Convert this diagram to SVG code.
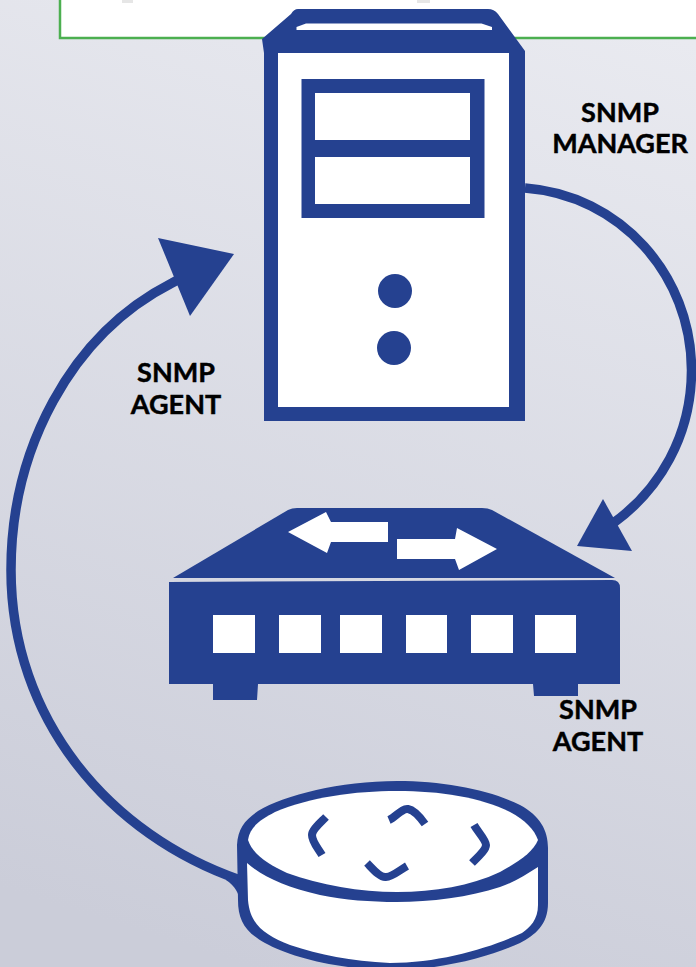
<svg xmlns="http://www.w3.org/2000/svg" width="696" height="967" viewBox="0 0 696 967">
<style>
.b{fill:#254190}
.w{fill:#fff}
.l{font-family:Lato,"Liberation Sans",sans-serif;font-weight:700;font-size:27px;fill:#000;stroke:#000;stroke-width:.45;text-anchor:middle}
.c{fill:none;stroke:#254190;stroke-width:9.500}
.m{fill:none;stroke:#254190;stroke-width:8;stroke-linejoin:round}
</style>
<defs>
<linearGradient id="bg" gradientUnits="userSpaceOnUse" x1="560" y1="0" x2="250" y2="967">
<stop offset="0" stop-color="#e9eaf0"/>
<stop offset="1" stop-color="#cbcdd9"/>
</linearGradient>
</defs>
<rect width="696" height="967" fill="url(#bg)"/>
<g id="banner">
<rect x="60" y="-5" width="640" height="43" fill="#fff" stroke="#4caf50" stroke-width="2.500"/>
<rect x="122" y="0" width="11" height="3" fill="#e6e6e6"/>
<rect x="417" y="0" width="13" height="3" fill="#e6e6e6"/>
</g>
<g id="connectors">
<path class="c" d="M525 188C620 195 691.500 275 691.500 370C691.500 435 660 490 612 524"/>
<polygon class="b" points="603,499 632,551 577,546"/>
<path class="c" d="M240 880C110 835 11 720 11 570C11 450 70 335 172 283L185 276"/>
<path class="b" d="M226 874L240 879V902C239 893 235 886 226 880Z"/>
<polygon class="b" points="158,238 234,254 190,316"/>
</g>
<g id="snmp-manager">
<path class="b" d="M298 9H488Q494 9 498 14L525 51V421H264V53L262 39L291 14Q294 9 298 9Z"/>
<rect class="w" x="278" y="53" width="231" height="354"/>
<path class="w" d="M296.500 27L306 23.500H481.500L492 27V30H296.500Z"/>
<rect class="b" x="301.500" y="79" width="183" height="139"/>
<rect class="w" x="315" y="93" width="155" height="47"/>
<rect class="w" x="315" y="157" width="155" height="47"/>
<circle class="b" cx="395" cy="291" r="17"/>
<circle class="b" cx="394" cy="348" r="17"/>
<text class="l" x="620" y="122">SNMP</text>
<text class="l" x="620" y="153">MANAGER</text>
</g>
<g id="switch-agent">
<path class="b" d="M173 578L288 510Q292 508 297 508H482Q488 508 492 510L615 578Z"/>
<polygon class="w" points="288,532 326,512 331,522 388,522 388,542 331,542 327,553"/>
<polygon class="w" points="397,539 455,539 457,528 497,549 459,570 455,559 397,559"/>
<path class="b" d="M169 582L612 580Q620 580 620 588V684H578V696H534L533 684H258L257 700H213V684H169Z"/>
<rect class="w" x="213" y="615" width="42" height="38"/>
<rect class="w" x="279" y="615" width="42" height="38"/>
<rect class="w" x="340" y="615" width="42" height="38"/>
<rect class="w" x="406" y="615" width="41" height="38"/>
<rect class="w" x="471" y="615" width="42" height="38"/>
<rect class="w" x="535" y="615" width="41" height="38"/>
<text class="l" x="598" y="719">SNMP</text>
<text class="l" x="598" y="751">AGENT</text>
</g>
<g id="router-agent">
<path class="b" d="M237 845C238 828 245 820 258 811C285 795 340 781 397 781C445 781 490 790 520 805C540 816 548 830 548 848V903C548 925 535 935 520 943C490 957 440 970 393 970C340 970 290 957 265 943C245 932 238 920 238 900Z"/>
<path class="w" d="M248 840C250 826 262 819 275 812C310 797 355 791 397 791C440 791 480 797 510 812C525 820 534 829 538 840C533 852 520 861 500 872C470 886 435 892 397 892C360 892 320 885 287 873C268 864 253 855 248 840Z"/>
<path class="w" d="M247 863C262 876 285 887 320 895C345 900 370 902 397 902C430 902 470 897 500 887C515 882 525 875 538 867V905C538 920 530 927 522 933C490 948 440 963 390 963C350 961 320 955 290 945C265 935 250 925 248 900Z"/>
<path class="m" d="M326 817C318 825 312 830 312 835C312 842 318 848 322 855"/>
<path class="m" d="M389 820C396 817 402 808 408 809C414 810 420 817 425 824"/>
<path class="m" d="M474 825C478 832 486 840 486 845C486 850 478 857 472 863"/>
<path class="m" d="M367 863C372 868 380 878 386 877C392 877 400 870 407 866"/>
<text class="l" x="176" y="382">SNMP</text>
<text class="l" x="176" y="414">AGENT</text>
</g>
</svg>
